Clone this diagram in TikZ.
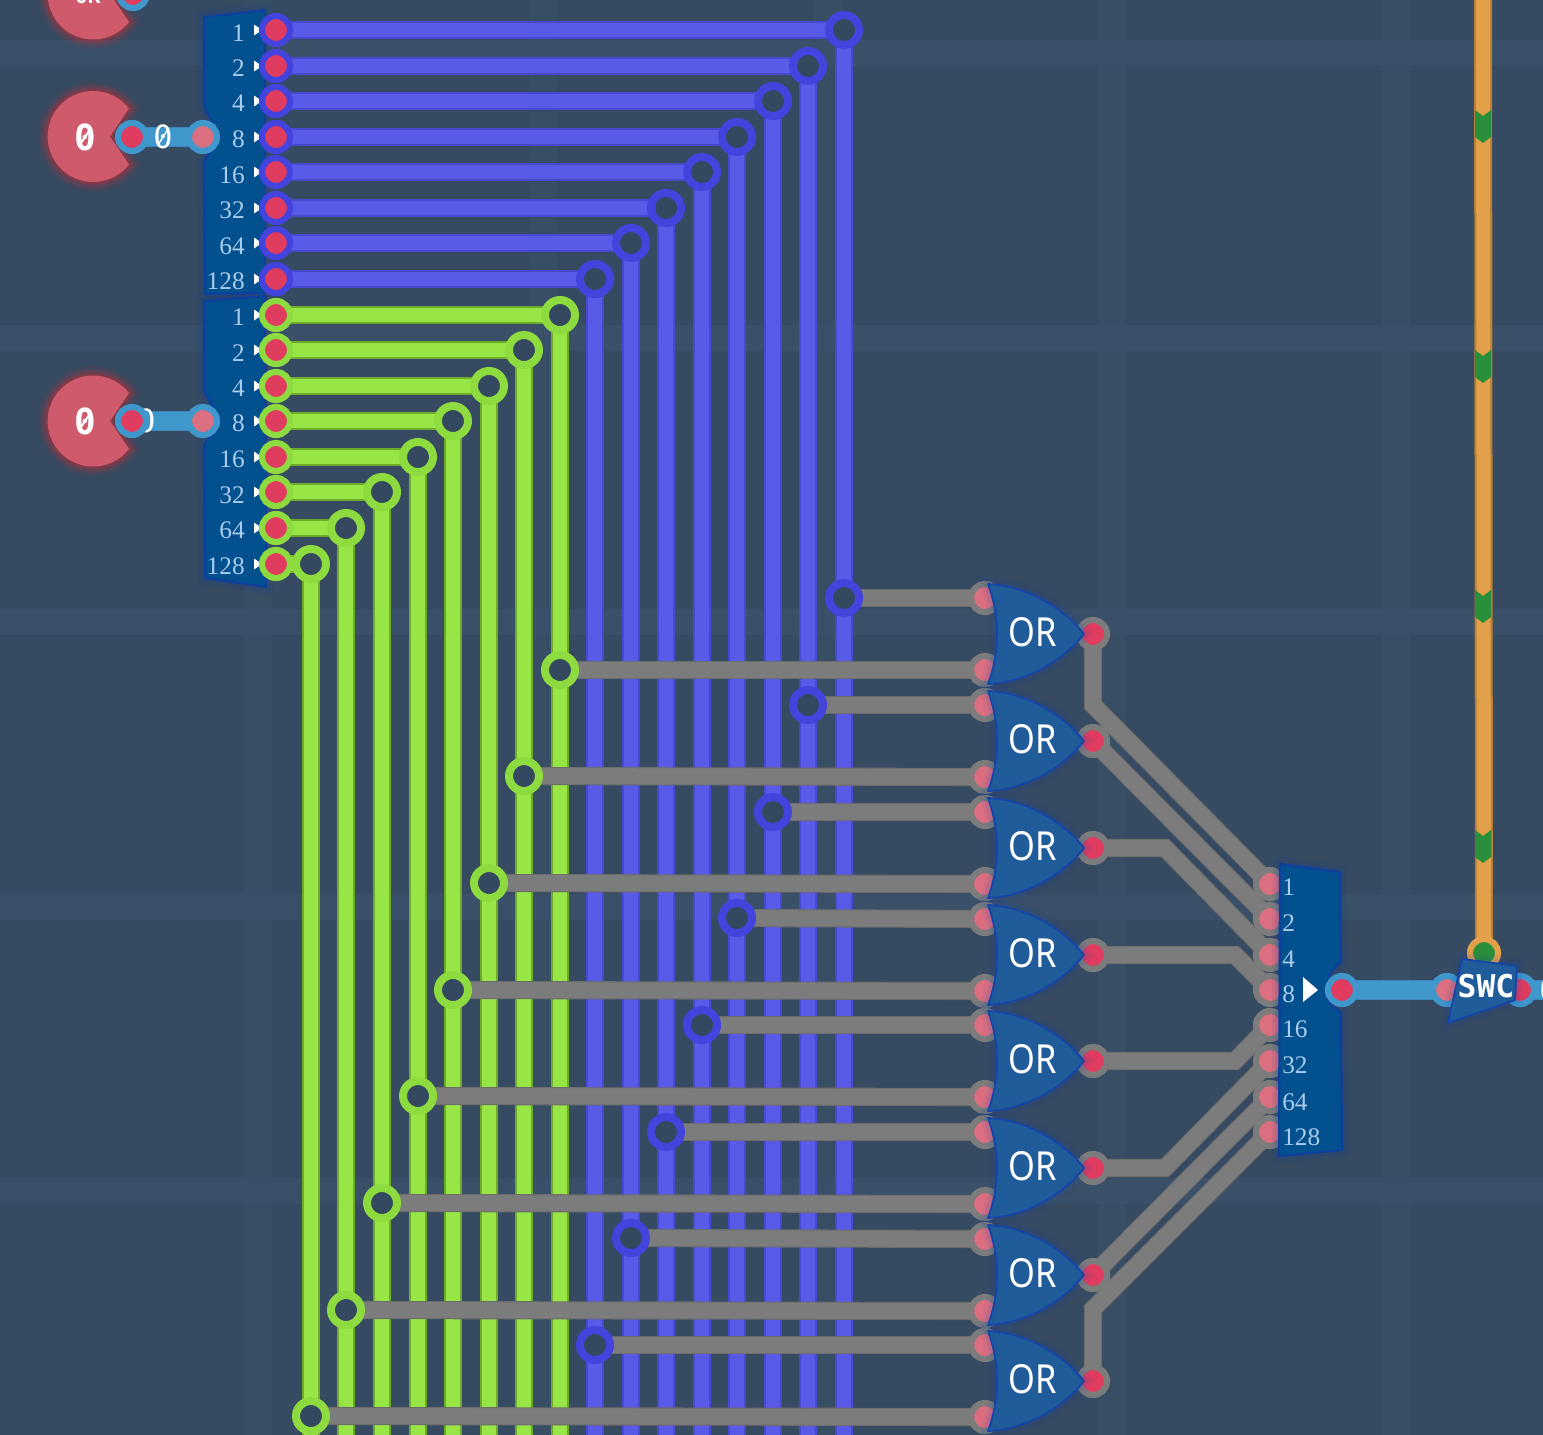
\documentclass[tikz,border=0pt]{standalone}
\usepackage{fontspec}
\usetikzlibrary{positioning}
\newfontfamily\labfont{Liberation Serif}
\newfontfamily\monofnt{DejaVu Sans Mono}
\newfontfamily\orfont[FakeStretch=0.86]{Noto Sans}
\definecolor{bgc}{HTML}{364A61}
\definecolor{bandh}{HTML}{3A5069}
\definecolor{bandv}{HTML}{384E65}
\definecolor{hole}{HTML}{34485F}
\definecolor{bluew}{HTML}{5A5AE8}
\definecolor{bluee}{HTML}{4848D0}
\definecolor{bluer}{HTML}{4343DD}
\definecolor{greenw}{HTML}{97E645}
\definecolor{greene}{HTML}{6EAB2A}
\definecolor{greenr}{HTML}{8EDB40}
\definecolor{grayw}{HTML}{7C7C7C}
\definecolor{graye}{HTML}{6D6D6D}
\definecolor{cyanw}{HTML}{3F97CB}
\definecolor{cyane}{HTML}{3A86BC}
\definecolor{orw}{HTML}{E3A04A}
\definecolor{ore}{HTML}{B98038}
\definecolor{grm}{HTML}{2A8F3A}
\definecolor{redp}{HTML}{E03C60}
\definecolor{palep}{HTML}{DB6F80}
\definecolor{pacm}{HTML}{CE5A6C}
\definecolor{muxf}{HTML}{03508F}
\definecolor{muxe}{HTML}{0D3F9E}
\definecolor{gatef}{HTML}{1F5C99}
\definecolor{gatee}{HTML}{1545A8}
\definecolor{labc}{HTML}{A9CCEC}
\pgfdeclarelayer{bgl}
\pgfdeclarelayer{lowwire}
\pgfdeclarelayer{highwire}
\pgfsetlayers{bgl,lowwire,highwire,main}
\tikzset{
  wirebase/.style={line join=miter,line cap=butt},
  bluewire/.style={wirebase,preaction={draw=bluee,line width=13pt},draw=bluew,line width=11pt},
  greenwire/.style={wirebase,preaction={draw=greene,line width=13.2pt},draw=greenw,line width=11.2pt},
  graywire/.style={wirebase,preaction={draw=graye,line width=13.6pt},draw=grayw,line width=12pt},
  cyanwire/.style={wirebase,preaction={draw=cyane,line width=15.4pt},draw=cyanw,line width=13.8pt},
  orangewire/.style={wirebase,preaction={draw=ore,line width=13.5pt},draw=orw,line width=10.5pt},
  pinbase/.style={circle,inner sep=0pt,minimum size=21pt,line width=4.6pt},
  bluepin/.style={pinbase,draw=bluer,fill=redp},
  greenpin/.style={pinbase,draw=greenr,fill=redp},
  graypin/.style={pinbase,draw=grayw,fill=redp},
  grayin/.style={pinbase,draw=grayw,fill=palep},
  cyanpin/.style={pinbase,draw=cyanw,fill=redp},
  cyanin/.style={pinbase,draw=cyanw,fill=palep},
  orpin/.style={pinbase,draw=orw,fill=grm},
  bluejun/.style={circle,inner sep=0pt,minimum size=22.5pt,line width=6pt,draw=bluer,fill=hole},
  greenjun/.style={circle,inner sep=0pt,minimum size=22.5pt,line width=6pt,draw=greenr,fill=hole},
  muxbody/.style={fill=muxf,draw=muxe,line width=1.6pt,line join=round,
    preaction={draw=muxe,line width=6pt,opacity=.12},preaction={draw=muxe,line width=11pt,opacity=.08}},
  gatebody/.style={fill=gatef,draw=gatee,line width=1.4pt,line join=round,
    preaction={draw=gatee,line width=7pt,opacity=.10},preaction={draw=gatee,line width=12pt,opacity=.06}},
  pacbody/.style={fill=pacm,line join=round,
    preaction={draw=red!60!pacm,line width=14pt,opacity=.08},
    preaction={draw=red!60!pacm,line width=9pt,opacity=.14},
    preaction={draw=red!60!pacm,line width=4pt,opacity=.25}},
  numlab/.style={font=\labfont\fontsize{19}{19}\selectfont,text=labc,inner sep=0pt},
  monolab/.style={font=\monofnt\bfseries\fontsize{27}{27}\selectfont,text=white,inner sep=0pt},
  wirelab/.style={font=\monofnt\fontsize{24}{24}\selectfont,text=white,inner sep=0pt},
  orlab/.style={font=\orfont\fontsize{30}{30}\selectfont,text=white,inner sep=0pt},
  swclab/.style={font=\monofnt\bfseries\fontsize{23.5}{23.5}\selectfont,text=white,inner sep=0pt},
  zslash/.style={draw=white,line width=1.5pt},
  tick/.style={fill=white},
}
\begin{document}
\begin{tikzpicture}[x=0.75pt,y=-0.75pt]
\useasboundingbox (0,0) rectangle (1543,1435);
% background
\begin{pgfonlayer}{bgl}
  \fill[bgc] (0,0) rectangle (1543,1435);
  \foreach \vx in {258,543,828,1112,1396}
    \fill[bandv] (\vx-14,0) rectangle (\vx+14,1435);
  \foreach \hy in {53,338,622,907,1191}
    \fill[bandh] (0,\hy-13) rectangle (1543,\hy+13);
\end{pgfonlayer}

% source blobs
\foreach \n/\cy in {1/-6,2/136.5,3/421}{
  \path[pacbody] (110,\cy) -- ++(19,-28) arc[start angle=-38,end angle=-322,radius=45.5] -- cycle;
}
\node[font=\monofnt\bfseries\fontsize{16}{16}\selectfont,text=white,inner sep=0pt,anchor=base] (srctxt1) at (88,3) {0K};
\node[monolab] (srctxt2) at (85,137) {0};
\node[monolab] (srctxt3) at (85,421) {0};
\draw[zslash] (79,146) -- (91,128);
\draw[zslash] (79,430) -- (91,412);

% splitters
\path[muxbody] (204,17) -- (265,10) -- (265,293) -- (205,294) -- (204,161) -- (220,137) -- (204,107) -- cycle;
\path[muxbody] (204,301) -- (265,296) -- (266,587) -- (205,578) -- (204,445) -- (220,421) -- (204,391) -- cycle;
\foreach \t/\ly in {1/33,2/68,4/103,8/139,16/175,32/210,64/246,128/281}
  \node[numlab,anchor=east] (ua\t) at (245,\ly) {\t};
\foreach \t/\ly in {1/317,2/353,4/388,8/423,16/459,32/495,64/530,128/566}
  \node[numlab,anchor=east] (la\t) at (245,\ly) {\t};
\foreach \ty in {30,66,101,137,172,208,243,279,315,350,386,421,457,492,528,564}
  \fill[tick] (254,\ty-5.5) -- (262,\ty) -- (254,\ty+5.5) -- cycle;

% source connectors
\node[wirelab] (wl1) at (163,137) {0};
\draw[zslash,line width=1pt] (158,145) -- (168,129);
\node[wirelab] (wl2) at (146,421) {0};
\node[cyanpin] (sa) at (132,137) {};
\node[cyanin] (sb) at (203,137) {};
\node[cyanpin] (sc) at (132,421) {};
\node[cyanin] (sd) at (203,421) {};
\node[cyanpin] (se) at (133,-6) {};
\begin{pgfonlayer}{highwire}
  \draw[cyanwire] (sa.center) -- (sb.center);
  \draw[cyanwire] (sc.center) -- (sd.center);
\end{pgfonlayer}

% blue bus
\foreach \i/\py/\jx/\jy in {1/30/844/598,2/66/808/705,3/101/773/812,4/137/737/918,5/172/702/1025,6/208/666/1132,7/243/631/1238,8/279/595/1345}{
  \node[bluepin] (bp\i) at (276,\py) {};
  \node[bluejun] (bt\i) at (\jx,\py) {};
  \node[bluejun] (bj\i) at (\jx,\jy) {};
  \coordinate (bb\i) at (\jx,1450);
  \begin{pgfonlayer}{lowwire}
    \draw[bluewire] (bp\i.center) -- (bt\i.center) -- (bb\i);
  \end{pgfonlayer}
}
% green bus
\foreach \i/\py/\jx/\jy in {1/315/560/670,2/350/524/776,3/386/489/883,4/421/453/990,5/457/418/1096,6/492/382/1203,7/528/346/1310,8/564/311/1416}{
  \node[greenpin] (gp\i) at (276,\py) {};
  \node[greenjun] (gt\i) at (\jx,\py) {};
  \node[greenjun] (gj\i) at (\jx,\jy) {};
  \coordinate (gb\i) at (\jx,1450);
  \begin{pgfonlayer}{lowwire}
    \draw[greenwire] (gp\i.center) -- (gt\i.center) -- (gb\i);
  \end{pgfonlayer}
}

% OR gates
\foreach \i/\cy in {1/634,2/741,3/848,4/955,5/1061,6/1168,7/1275,8/1381}{
  \node[grayin] (ia\i) at (985,\cy-36) {};
  \node[grayin] (ib\i) at (985,\cy+36) {};
  \node[graypin] (ot\i) at (1093,\cy) {};
  \path[gatebody] (988,\cy-50) .. controls (1030,\cy-48) and (1065,\cy-24) .. (1084,\cy)
     .. controls (1065,\cy+24) and (1030,\cy+48) .. (988,\cy+50)
     .. controls (1000,\cy+18) and (1000,\cy-18) .. cycle;
  \node[orlab] (or\i) at (1033,\cy-1.5) {OR};
  \begin{pgfonlayer}{highwire}
    \draw[graywire] (bj\i.center) -- (ia\i.center);
    \draw[graywire] (gj\i.center) -- (ib\i.center);
  \end{pgfonlayer}
}

% output multiplexer
\foreach \i/\py in {1/884,2/919,3/955,4/990,5/1025,6/1061,7/1097,8/1132}
  \node[grayin] (mi\i) at (1270,\py) {};
\path[muxbody] (1280,864) -- (1340,872) -- (1341,962) .. controls (1330,970) and (1327,980) .. (1327,990)
   .. controls (1327,1000) and (1330,1006) .. (1341,1012) -- (1342,1150) -- (1279,1156) -- cycle;
\foreach \t/\ly in {1/887,2/923,4/959,8/994,16/1029,32/1065,64/1102,128/1137}
  \node[numlab,anchor=west] (ma\t) at (1282,\ly) {\t};
\fill[white] (1303,977) -- (1318,990) -- (1303,1002) -- cycle;

% gate outputs to multiplexer
\coordinate (k1) at (1093,705);
\coordinate (k3) at (1165,848);
\coordinate (k4) at (1235,955);
\coordinate (k5) at (1235,1061);
\coordinate (k6) at (1165,1168);
\coordinate (k8) at (1093,1309);
\begin{pgfonlayer}{highwire}
  \draw[graywire] (ot1.center) -- (k1) -- (mi1.center);
  \draw[graywire] (ot2.center) -- (mi2.center);
  \draw[graywire] (ot3.center) -- (k3) -- (mi3.center);
  \draw[graywire] (ot4.center) -- (k4) -- (mi4.center);
  \draw[graywire] (ot5.center) -- (k5) -- (mi5.center);
  \draw[graywire] (ot6.center) -- (k6) -- (mi6.center);
  \draw[graywire] (ot7.center) -- (mi7.center);
  \draw[graywire] (ot8.center) -- (k8) -- (mi8.center);
\end{pgfonlayer}

% orange control line
\coordinate (otop) at (1483,-15);
\node[orpin] (opin) at (1484,953) {};
\begin{pgfonlayer}{highwire}
  \draw[orangewire] (otop) -- (opin.center);
  \foreach \my in {110,350,590,830}
    \fill[grm] (1475,\my) -- (1483,\my+6) -- (1491,\my) -- (1491,\my+27) -- (1483,\my+33) -- (1475,\my+27) -- cycle;
\end{pgfonlayer}

% output switch
\node[cyanpin] (mo) at (1342,990) {};
\node[cyanin] (swi) at (1447,990) {};
\node[cyanpin] (swo) at (1520,990) {};
\coordinate (oend) at (1560,990);
\node[wirelab] (wl3) at (1549,990) {0};
\begin{pgfonlayer}{highwire}
  \draw[cyanwire] (mo.center) -- (swi.center);
  \draw[cyanwire] (swo.center) -- (oend);
\end{pgfonlayer}
\path[gatebody] (1462,959) -- (1517,966) -- (1515,1000) -- (1448,1023) -- cycle;
\node[swclab] (swc) at (1486,986) {SWC};
\end{tikzpicture}
\end{document}
